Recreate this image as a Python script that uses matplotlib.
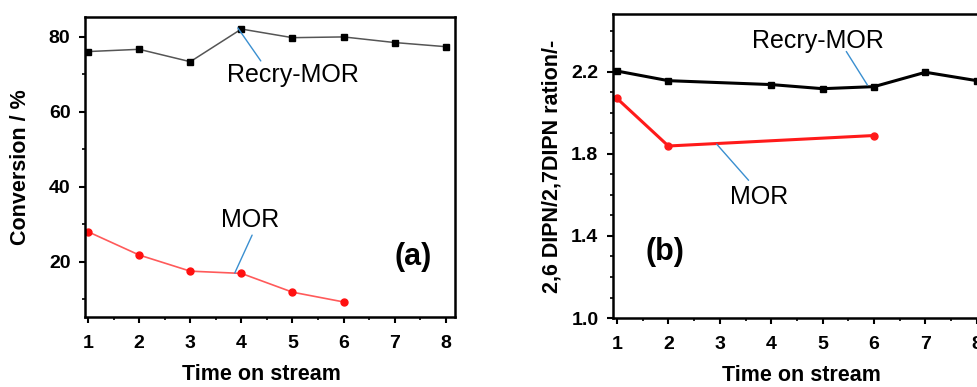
import numpy as np
import matplotlib
matplotlib.use('Agg')
from matplotlib import pyplot as plt
from matplotlib.ticker import MultipleLocator

plt.rc('font', family=['Liberation Sans', 'DejaVu Sans'])

# panel (a): conversion vs time on stream
time_a_recry = [1, 2, 3, 4, 5, 6, 7, 8]
conv_recry = [76.0, 76.6, 73.3, 82.0, 79.7, 79.9, 78.4, 77.3]
time_a_mor = [1, 2, 3, 4, 5, 6]
conv_mor = [28.0, 21.8, 17.5, 16.9, 11.9, 9.3]

# panel (b): 2,6/2,7 DIPN ratio vs time on stream
time_b_recry = [1, 2, 4, 5, 6, 7, 8]
ratio_recry = [2.203, 2.156, 2.137, 2.117, 2.127, 2.197, 2.156]
time_b_mor = [1, 2, 6]
ratio_mor = [2.07, 1.838, 1.889]

xticks = [1, 2, 3, 4, 5, 6, 7, 8]
callout = '#3a8fd0'

fig = plt.figure(figsize=(9.77, 3.87), dpi=100)


def style_axes(ax):
    for s in ax.spines.values():
        s.set_linewidth(1.8)
    ax.tick_params(which='major', direction='out', length=4.5, width=1.5,
                   labelsize=14, pad=6)
    ax.tick_params(which='minor', direction='out', length=2.5, width=1.2)
    ax.tick_params(axis='x', which='major', pad=8.5)
    ax.set_xticks(xticks)
    ax.xaxis.set_minor_locator(MultipleLocator(0.5))
    for lab in ax.get_xticklabels() + ax.get_yticklabels():
        lab.set_fontweight('bold')


def callout_line(ax, start, end):
    ax.annotate('', xy=start, xytext=end,
                arrowprops=dict(arrowstyle='-', color=callout, lw=1.0,
                                shrinkA=0, shrinkB=0))


# ---------------- (a)
ax1 = fig.add_axes([0.087, 0.181, 0.3787, 0.775])
ax1.plot(time_a_recry, conv_recry, '-', color='#555555', lw=1.1)
ax1.plot(time_a_recry, conv_recry, 's', color='black', ms=4.5)
ax1.plot(time_a_mor, conv_mor, '-', color='#ff5a5a', lw=1.2)
ax1.plot(time_a_mor, conv_mor, 'o', color='#ff1010', ms=5)
ax1.set_xlim(0.94, 8.18)
ax1.set_ylim(5.3, 85.2)
ax1.yaxis.set_major_locator(MultipleLocator(20))
ax1.yaxis.set_minor_locator(MultipleLocator(10))
style_axes(ax1)
ax1.set_ylabel('Conversion / %', fontsize=15.5, fontweight='bold')
ax1.yaxis.set_label_coords(-54 / 370, 0.5)
ax1.set_xlabel('Time on stream', fontsize=15.5, fontweight='bold')
ax1.xaxis.set_label_coords(0.478, -47 / 300)

callout_line(ax1, (3.93, 82.3), (4.38, 73.5))
ax1.text(5.01, 69.8, 'Recry-MOR', fontsize=18, ha='center', va='center')
callout_line(ax1, (4.21, 27.1), (3.87, 17.0))
ax1.text(4.17, 31.1, 'MOR', fontsize=18, ha='center', va='center')
ax1.text(7.36, 21.2, '(a)', fontsize=22, fontweight='bold',
         ha='center', va='center')

# ---------------- (b)
ax2 = fig.add_axes([0.6274, 0.178, 0.382, 0.7855])
ax2.plot(time_b_recry, ratio_recry, '-s', color='black', lw=2.2, ms=4.5)
ax2.plot(time_b_mor, ratio_mor, '-o', color='#ff1a1a', lw=2.2, ms=5)
ax2.set_xlim(0.923, 8.18)
ax2.set_ylim(1.0, 2.48)
ax2.set_yticks([1.0, 1.4, 1.8, 2.2])
ax2.yaxis.set_minor_locator(MultipleLocator(0.1))
style_axes(ax2)
ax2.set_ylabel('2,6 DIPN/2,7DIPN ration/-', fontsize=15.5, fontweight='bold')
ax2.yaxis.set_label_coords(-50 / 373, 0.5)
ax2.set_xlabel('Time on stream', fontsize=15.5, fontweight='bold')
ax2.xaxis.set_label_coords(0.506, -47 / 304)

callout_line(ax2, (5.46, 2.298), (5.87, 2.135))
ax2.text(4.90, 2.351, 'Recry-MOR', fontsize=18, ha='center', va='center')
callout_line(ax2, (3.56, 1.671), (2.94, 1.847))
ax2.text(3.76, 1.592, 'MOR', fontsize=18, ha='center', va='center')
ax2.text(1.94, 1.321, '(b)', fontsize=22, fontweight='bold',
         ha='center', va='center')

fig.savefig('out.png', dpi=100)
